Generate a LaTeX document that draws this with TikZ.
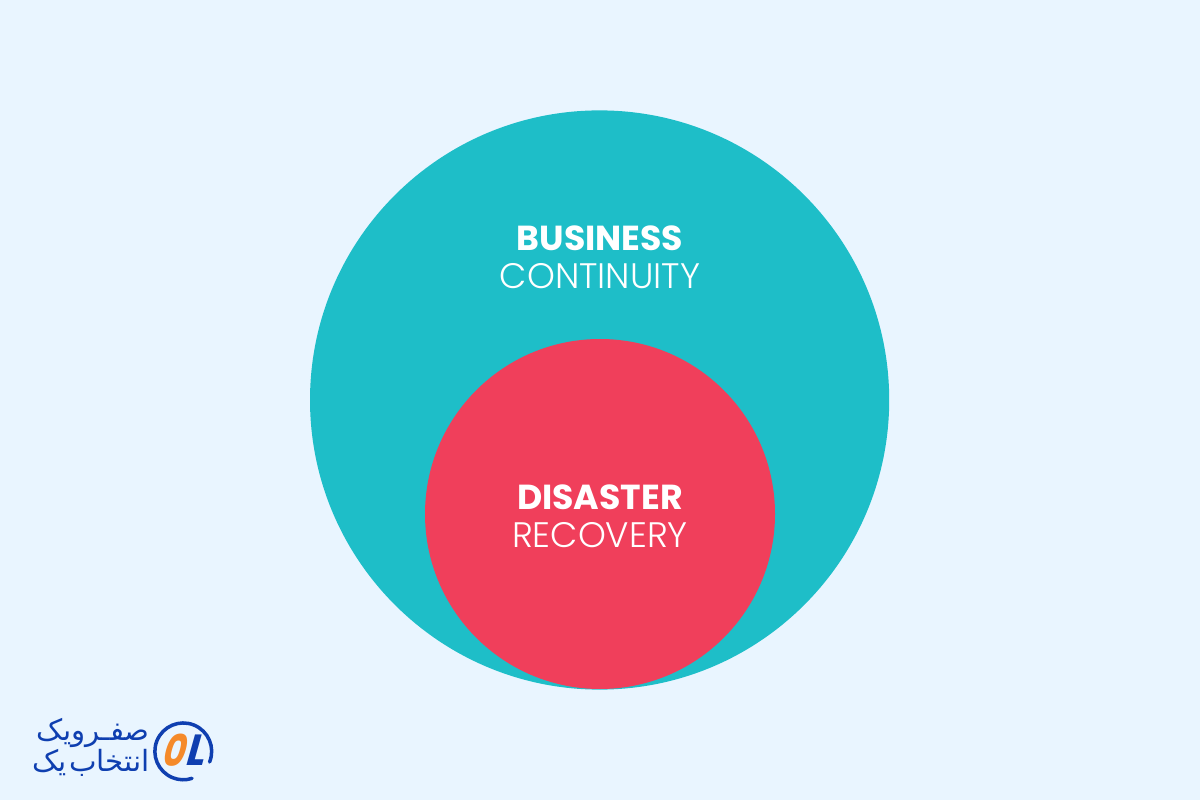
\documentclass[tikz,border=0pt]{standalone}
\usepackage{fontspec}
\setmainfont{Poppins}
\newfontfamily\arabicfont[Script=Arabic]{DejaVu Sans}
\TeXXeTstate=1
\usepackage{tikz}
\usetikzlibrary{arrows}
\definecolor{pagebg}{HTML}{E9F5FF}
\definecolor{outerteal}{HTML}{1EBEC8}
\definecolor{innerred}{HTML}{F03F5B}
\definecolor{logoblue}{HTML}{0F3FB0}
\definecolor{logoorange}{HTML}{F58A2A}
\begin{document}
\begin{tikzpicture}[node distance=1.55cm]
		\tikzstyle{disc}=[circle,draw=none,inner sep=0pt]
		\tikzstyle{boldlabel}=[text=white,font=\fontsize{24.7}{28}\selectfont\bfseries,inner sep=0pt]
		\tikzstyle{thinlabel}=[text=white,font=\fontsize{25.2}{28}\selectfont\fontspec{Poppins Light},inner sep=0pt]
		\tikzstyle{logotext}=[text=logoblue,font=\fontsize{20.8}{24}\selectfont\arabicfont,inner sep=0pt,anchor=east]
		\tikzstyle{logoletter}=[font=\fontsize{31}{34}\selectfont\bfseries,inner sep=0pt,transform shape,xslant=0.28]
		
		\useasboundingbox (0,0) rectangle (30,20);
		\fill[pagebg] (0,0) rectangle (30,20);
		
		\node[disc,fill=outerteal,minimum size=14.48cm] (outer) at (14.99,10) {};
		\node[disc,fill=innerred,minimum size=8.75cm]   (inner) at (15,7.15) {};
		
		\node[boldlabel] (business) at (15,14.05) {BUSINESS};
		\node[thinlabel] (continuity) [below of=business,node distance=0.95cm] {CONTINUITY};
		\node[boldlabel] (disaster) at (15,7.58) {DISASTER};
		\node[thinlabel] (recovery) [below of=disaster,node distance=0.95cm] {RECOVERY};
		
		\node[logotext] (logotop) at (3.75,1.68) {\beginR صفـرویک\endR};
		\node[logotext] (logobottom) at (3.75,0.93) {\beginR انتخاب\hskip0.08em یک\endR};
		
		\coordinate (ringstart) at (5.24,0.95);
		\draw[logoblue,line width=2.5pt,line cap=round] (ringstart) arc (-22:288:0.71);
		\node[logoletter,text=logoorange,xscale=0.8] (logoo) at (4.42,1.25) {0};
		\node[logoletter,text=logoblue,xscale=0.9]   (logol) at (4.95,1.25) {L};
\end{tikzpicture}
\end{document}
